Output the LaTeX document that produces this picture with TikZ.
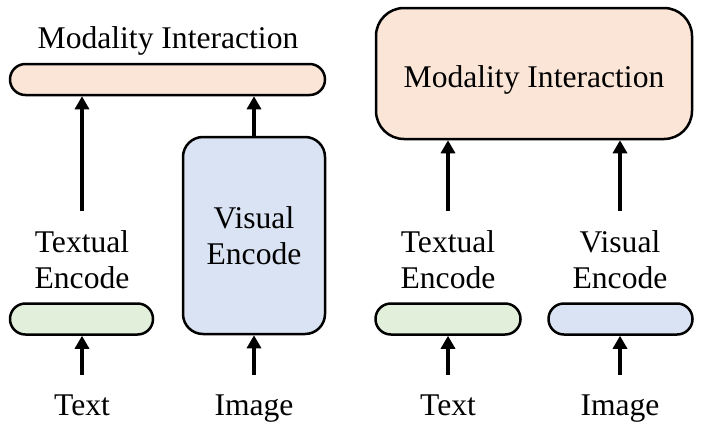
\documentclass[tikz,border=0pt]{standalone}
\usepackage{fontspec}
\setmainfont{Liberation Serif}
\usepackage{tikz}
\usetikzlibrary{arrows.meta}
\definecolor{fuse}{HTML}{FBE5D6}
\definecolor{txtenc}{HTML}{E2EFDA}
\definecolor{visenc}{HTML}{DAE3F3}
\tikzset{>={Triangle[width=7pt,length=6.5pt]}}
\tikzset{
  flow/.style={->,line width=1.6pt},
  block/.style={draw,line width=1.25pt,inner sep=0pt,align=center},
  pill/.style={block,minimum height=15.5pt,rounded corners=7.7pt},
  lbl/.style={align=center,inner xsep=0pt,inner ysep=9.5pt},
}

\begin{document}
\begin{tikzpicture}[x=0.5pt,y=0.5pt,font=\fontsize{15.8}{18}\selectfont]
\useasboundingbox (0,0) rectangle (706,430);
% left: heavy visual encoder, light interaction
\node[lbl,anchor=base] (fuseLtxt) at (168,382) {Modality Interaction};
\node[pill,fill=fuse,minimum width=157.5pt] (barL) at (167.5,350.5) {};
\node[lbl] (txtL) at (82,170.25) {Textual\\Encode};
\node[pill,fill=txtenc,minimum width=71.5pt] (tbarL) at (81.5,111) {};
\node[block,fill=visenc,minimum width=71pt,minimum height=98.5pt,
  rounded corners=10pt] (visL) at (254,194.5) {Visual\\Encode};
\node[lbl,anchor=base] (inTextL) at (82,15) {Text};
\node[lbl,anchor=base] (inImgL) at (254,15) {Image};
\draw[flow] (txtL.north) -- (txtL.north |- barL.south);
\draw[flow] (visL.north) -- (visL.north |- barL.south);
\draw[flow] (inTextL.north) -- (inTextL.north |- tbarL.south);
\draw[flow] (inImgL.north) -- (visL.south);
% right: light encoders, heavy interaction
\node[block,fill=fuse,minimum width=158pt,minimum height=65.5pt,
  rounded corners=14pt,text height=13.5pt,text depth=0pt] (boxR) at (534,356.5)
  {Modality Interaction};
\node[lbl] (txtR) at (448,170.25) {Textual\\Encode};
\node[lbl] (visR) at (620,170.25) {Visual\\Encode};
\node[pill,fill=txtenc,minimum width=72.5pt] (tbarR) at (448,111) {};
\node[pill,fill=visenc,minimum width=72pt] (vbarR) at (620.5,111) {};
\node[lbl,anchor=base] (inTextR) at (448,15) {Text};
\node[lbl,anchor=base] (inImgR) at (620,15) {Image};
\draw[flow] (txtR.north) -- (txtR.north |- boxR.south);
\draw[flow] (visR.north) -- (visR.north |- boxR.south);
\draw[flow] (inTextR.north) -- (inTextR.north |- tbarR.south);
\draw[flow] (inImgR.north) -- (inImgR.north |- vbarR.south);
\end{tikzpicture}
\end{document}
